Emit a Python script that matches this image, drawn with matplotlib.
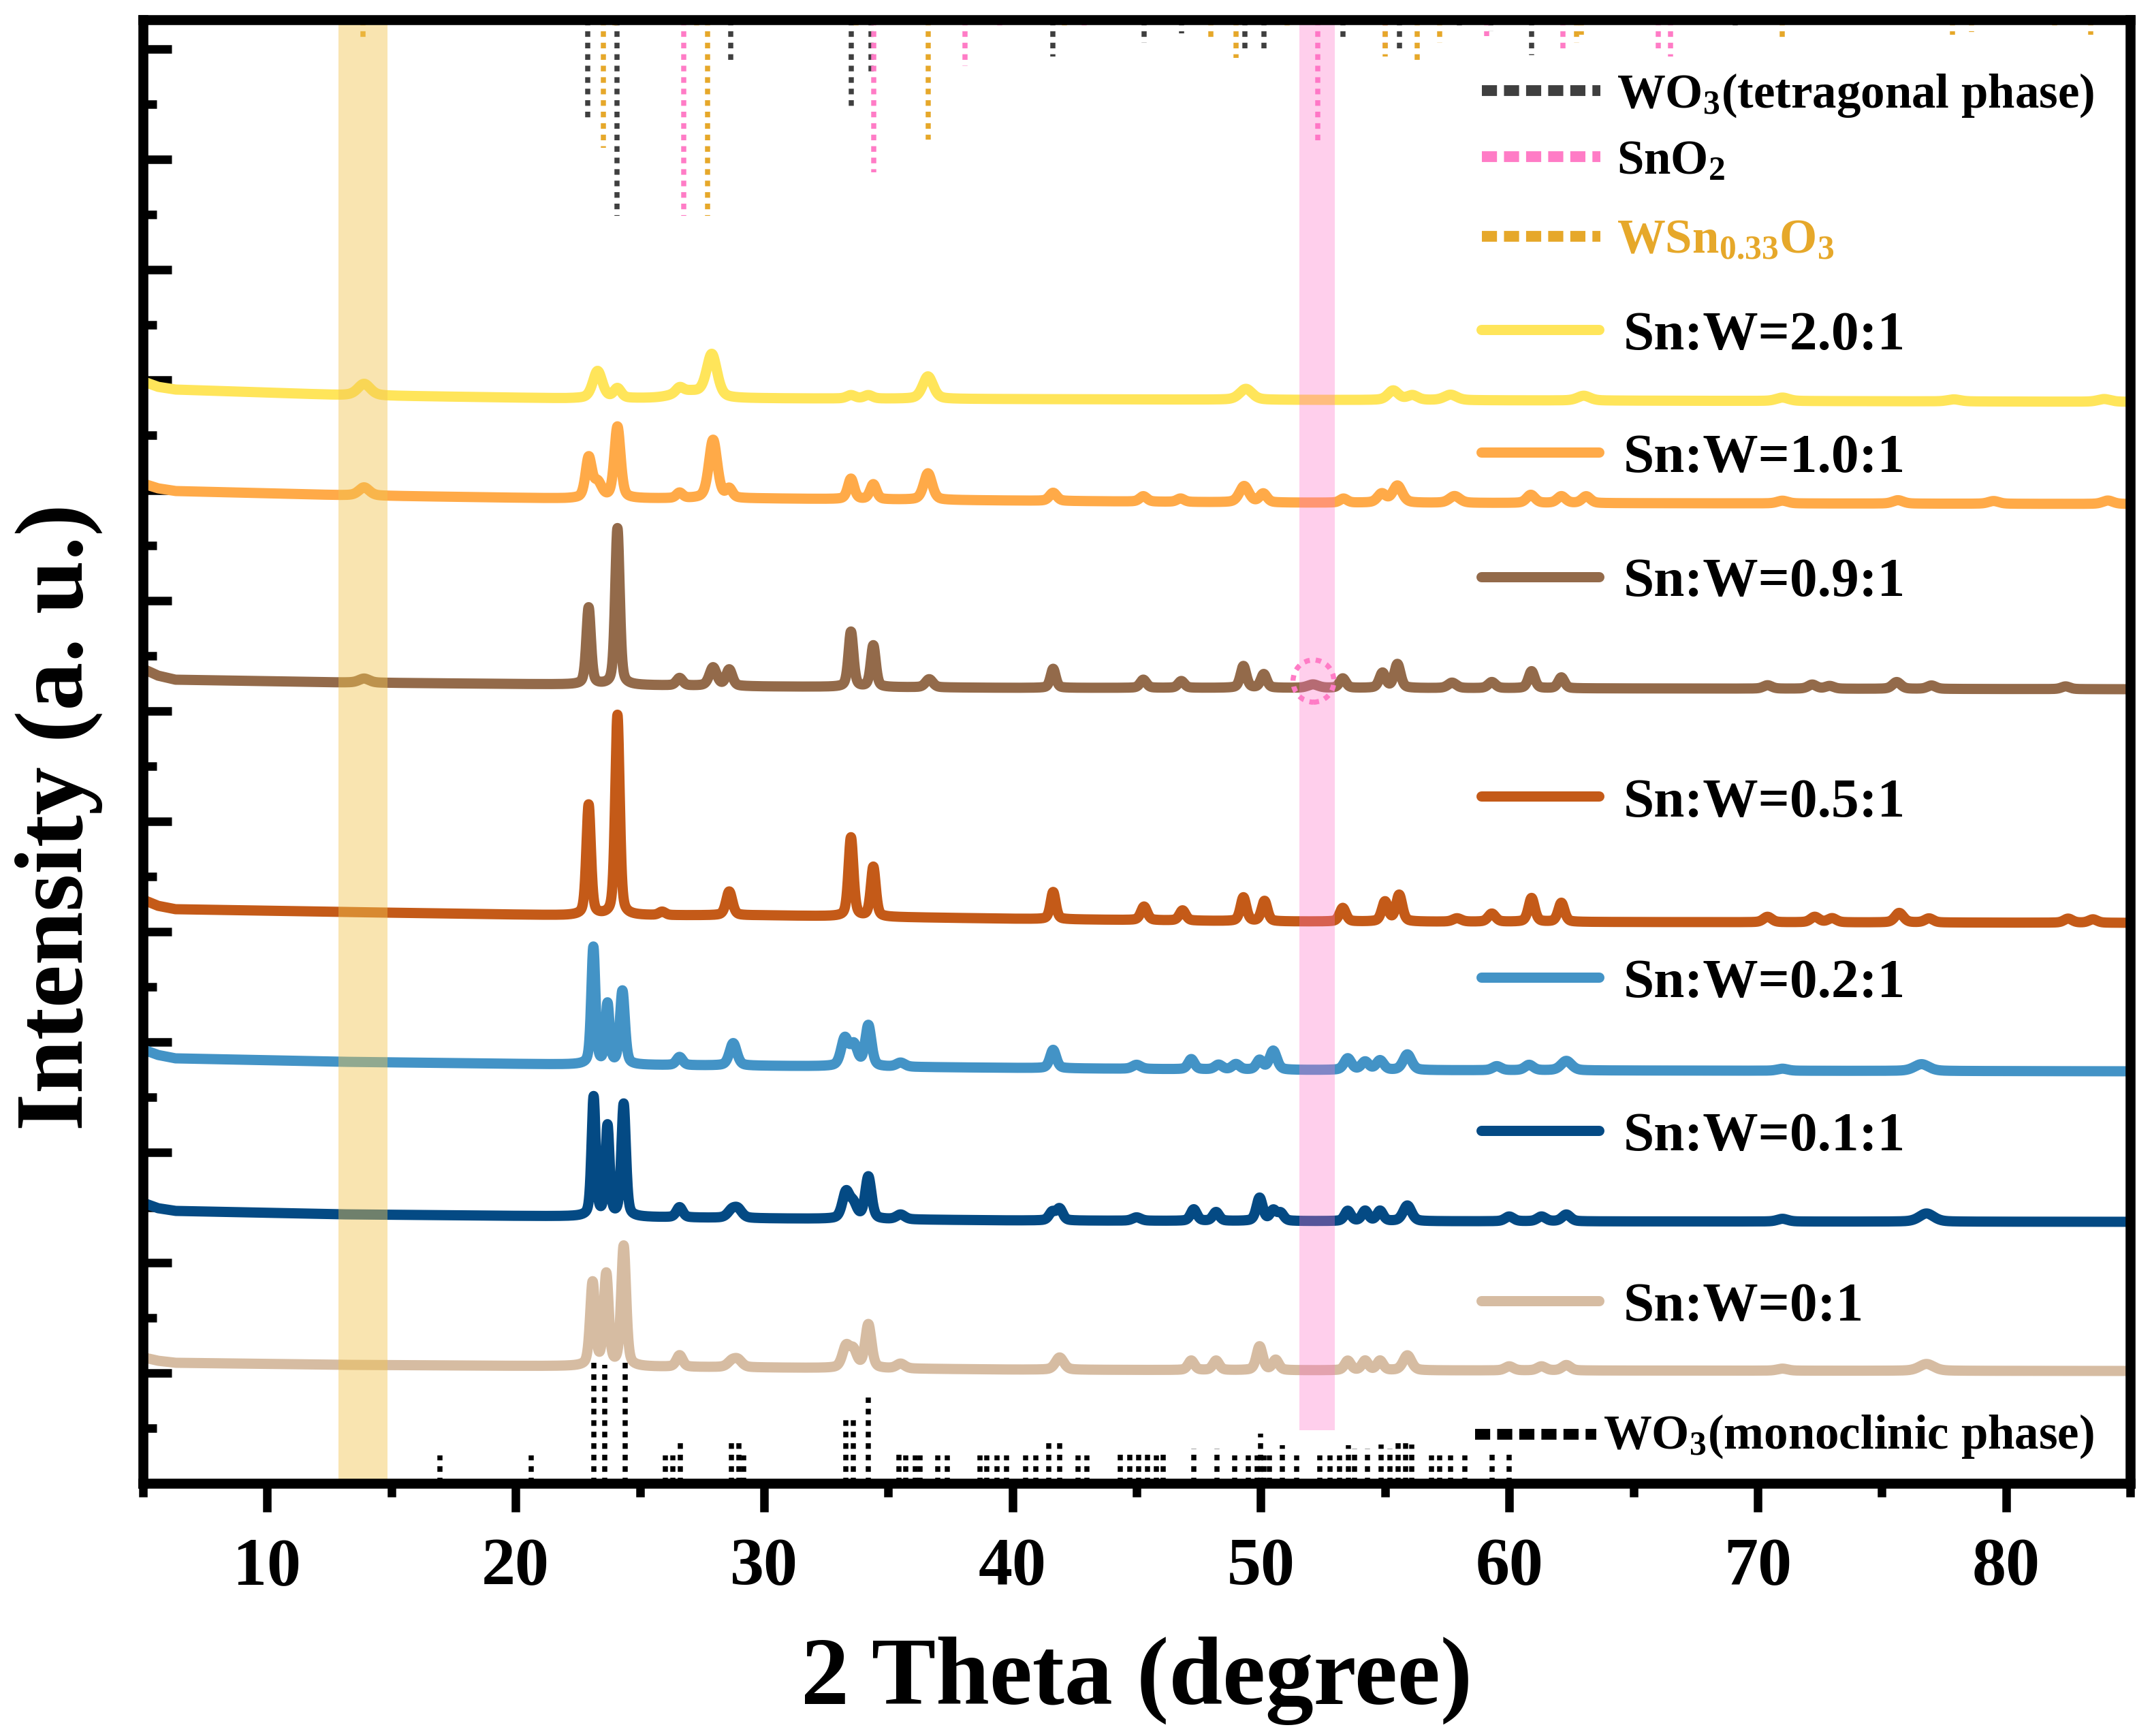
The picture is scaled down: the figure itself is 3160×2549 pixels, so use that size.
import numpy as np
import matplotlib
matplotlib.use("Agg")
import matplotlib.pyplot as plt
from matplotlib.lines import Line2D
from matplotlib.patches import Ellipse
from matplotlib.ticker import MultipleLocator

plt.rcParams['font.family'] = ['Liberation Serif', 'DejaVu Serif']
plt.rcParams['font.weight'] = 'bold'
plt.rcParams['mathtext.fontset'] = 'custom'
plt.rcParams['mathtext.rm'] = 'Liberation Serif:bold'
plt.rcParams['mathtext.bf'] = 'Liberation Serif:bold'
plt.rcParams['mathtext.it'] = 'Liberation Serif:italic:bold'

# ---- data -----------------------------------------------------------------
# baseline knots (2theta) shared by all patterns, offset intensities per sample
base_x = [5, 5.6, 6.3, 12.9, 22, 30, 40, 50, 85]
base_20 = [1618, 1610, 1606, 1598, 1593, 1593, 1592, 1591, 1588]
base_10 = [1468, 1461, 1457, 1451, 1446, 1446, 1443, 1440, 1438]
base_09 = [1196, 1186, 1180, 1176, 1173, 1170, 1168, 1168, 1166]
base_05 = [857, 848, 843, 839, 834, 834, 829, 825, 823]
base_02 = [637, 629, 624, 619, 615, 613, 610, 607, 605]
base_01 = [412, 404, 400, 395, 392, 389, 386, 385, 384]
base_00 = [185, 180, 177, 174, 172, 170, 167, 166, 165]

# peaks: (2theta, height, fwhm)
peaks_20 = [(13.9, 17, 0.6), (23.3, 40, 0.45), (24.1, 14, 0.35), (26.6, 8, 0.35),
            (27.0, 10, 1.4), (27.9, 62, 0.5), (33.5, 5, 0.4), (34.2, 5, 0.4),
            (36.6, 33, 0.5), (49.4, 16, 0.6), (55.33, 14, 0.5), (56.1, 7, 0.5),
            (57.64, 8, 0.6), (63.0, 7, 0.6), (71.0, 5, 0.6), (77.9, 3, 0.6),
            (83.95, 4, 0.6)]
peaks_10 = [(13.9, 12, 0.5), (22.94, 58, 0.3), (23.3, 22, 0.4), (24.1, 105, 0.3),
            (26.6, 8, 0.3), (27.95, 86, 0.4), (28.6, 13, 0.3), (33.5, 30, 0.3),
            (34.4, 22, 0.3), (36.6, 39, 0.4), (41.64, 12, 0.35), (45.27, 8, 0.35),
            (46.77, 5, 0.35), (49.33, 24, 0.45), (50.1, 13, 0.35), (53.33, 6, 0.35),
            (54.87, 13, 0.4), (55.5, 25, 0.45), (57.8, 10, 0.5), (60.87, 12, 0.4),
            (62.1, 10, 0.4), (63.1, 10, 0.4), (71.0, 4, 0.5), (75.65, 5, 0.5),
            (79.5, 4, 0.5), (84.1, 5, 0.5)]
peaks_09 = [(13.9, 6, 0.5), (22.94, 113, 0.22), (24.1, 230, 0.22), (26.6, 11, 0.3),
            (27.95, 27, 0.35), (28.6, 24, 0.3), (33.5, 81, 0.24), (34.4, 61, 0.24),
            (36.65, 12, 0.35), (41.64, 28, 0.25), (45.27, 12, 0.3), (46.8, 10, 0.3),
            (49.3, 32, 0.28), (50.12, 20, 0.28), (52.1, 5, 0.5), (53.3, 14, 0.3),
            (54.9, 22, 0.3), (55.5, 35, 0.3), (57.7, 8, 0.4), (59.3, 9, 0.35),
            (60.9, 25, 0.3), (62.1, 16, 0.3), (70.4, 5, 0.4), (72.2, 6, 0.4),
            (72.9, 4, 0.4), (75.6, 10, 0.4), (77.0, 5, 0.4), (82.4, 4, 0.4)]
peaks_05 = [(22.94, 162, 0.22), (24.1, 294, 0.22), (25.9, 5, 0.3), (28.6, 35, 0.3),
            (33.5, 116, 0.24), (34.4, 73, 0.24), (41.64, 40, 0.25), (45.3, 20, 0.3),
            (46.85, 15, 0.3), (49.3, 35, 0.28), (50.15, 30, 0.28), (53.3, 20, 0.3),
            (55.0, 29, 0.3), (55.57, 39, 0.3), (57.9, 5, 0.4), (59.3, 12, 0.35),
            (60.9, 35, 0.3), (62.1, 28, 0.3), (70.4, 8, 0.4), (72.3, 8, 0.4),
            (73.0, 6, 0.4), (75.7, 14, 0.4), (76.9, 6, 0.4), (82.5, 6, 0.4),
            (83.5, 5, 0.4)]
peaks_02 = [(23.13, 172, 0.2), (23.7, 88, 0.2), (24.3, 108, 0.24), (26.6, 12, 0.3),
            (28.76, 33, 0.35), (33.25, 40, 0.35), (33.62, 30, 0.35), (34.2, 60, 0.3),
            (35.5, 6, 0.4), (41.64, 27, 0.3), (45.0, 6, 0.4), (47.2, 15, 0.3),
            (48.3, 7, 0.35), (49.0, 8, 0.35), (49.95, 14, 0.3), (50.5, 28, 0.35),
            (53.5, 17, 0.35), (54.2, 12, 0.35), (54.8, 14, 0.35), (55.9, 23, 0.4),
            (59.5, 6, 0.4), (60.8, 8, 0.4), (62.3, 14, 0.5), (71.0, 3, 0.5),
            (76.6, 10, 0.7)]
peaks_01 = [(23.14, 175, 0.2), (23.7, 132, 0.2), (24.35, 165, 0.22), (26.6, 15, 0.3),
            (28.7, 10, 0.4), (28.95, 12, 0.4), (33.3, 38, 0.35), (33.6, 20, 0.35),
            (34.2, 62, 0.3), (35.5, 7, 0.4), (41.6, 12, 0.3), (41.9, 17, 0.3),
            (45.0, 5, 0.4), (47.3, 17, 0.3), (48.2, 13, 0.3), (49.95, 34, 0.3),
            (50.5, 15, 0.3), (50.8, 11, 0.3), (53.5, 15, 0.3), (54.2, 15, 0.3),
            (54.8, 15, 0.3), (55.9, 23, 0.4), (60.0, 7, 0.4), (61.3, 7, 0.4),
            (62.3, 10, 0.4), (71.0, 4, 0.5), (76.8, 12, 0.7)]
peaks_00 = [(23.1, 122, 0.24), (23.65, 134, 0.24), (24.35, 176, 0.24), (26.6, 17, 0.3),
            (28.7, 8, 0.4), (28.95, 10, 0.4), (33.3, 30, 0.35), (33.6, 24, 0.35),
            (34.2, 64, 0.3), (35.5, 7, 0.4), (41.9, 18, 0.4), (47.2, 14, 0.3),
            (48.2, 14, 0.3), (49.95, 35, 0.3), (50.6, 15, 0.3), (53.5, 14, 0.3),
            (54.2, 14, 0.3), (54.8, 14, 0.3), (55.9, 22, 0.4), (60.0, 6, 0.4),
            (61.3, 6, 0.4), (62.3, 8, 0.4), (71.0, 3, 0.5), (76.8, 10, 0.7)]

# reference sticks: position and length (from the top edge)
tet_pos = [22.9, 24.07, 28.65, 33.5, 34.3, 41.64, 45.29, 46.82, 49.35, 50.14,
           53.3, 55.57, 58.0, 59.27, 60.9, 69.1]
tet_len = [148, 288, 60, 134, 82, 54, 34, 20, 44, 44, 30, 50, 12, 17, 52, 10]
sno2_pos = [26.77, 34.43, 38.1, 39.48, 42.9, 52.28, 55.02, 59.08, 62.17, 66.0, 66.5]
sno2_len = [288, 224, 68, 15, 12, 184, 46, 24, 44, 44, 54]
wsn_pos = [13.85, 23.54, 24.0, 27.3, 27.72, 33.7, 36.6, 42.1, 48.0, 49.0, 51.07,
           55.0, 56.3, 57.2, 62.7, 62.9, 71.0, 77.85, 78.6, 81.95, 83.4]
wsn_len = [30, 188, 14, 12, 288, 12, 176, 12, 32, 56, 12, 54, 62, 34, 34, 22,
           30, 22, 18, 16, 22]
# monoclinic WO3 sticks: position and height (from the bottom edge)
mono_pos = [16.95, 20.64, 23.16, 23.6, 24.42, 26.04, 26.34, 26.64, 28.7, 29.0,
            29.17, 33.3, 33.6, 34.2, 35.42, 35.7, 36.1, 36.28, 37.0, 37.38, 38.7,
            38.96, 39.37, 39.75, 40.53, 40.95, 41.45, 41.9, 42.65, 43.0, 44.34,
            44.73, 45.09, 45.44, 45.8, 46.06, 47.3, 48.24, 48.95, 49.5, 49.84,
            49.99, 50.14, 50.35, 50.88, 51.45, 52.37, 52.79, 53.17, 53.53, 53.77,
            54.3, 54.83, 55.19, 55.54, 55.84, 56.08, 56.86, 57.2, 57.63, 58.22,
            59.3, 59.99]
mono_h = [41, 41, 179, 174, 178, 41, 41, 65, 60, 60, 41, 94, 94, 126, 46, 41,
          41, 41, 41, 41, 41, 41, 41, 41, 41, 41, 59, 59, 41, 41, 44, 44, 44, 44,
          41, 46, 51, 51, 41, 41, 41, 73, 41, 41, 56, 41, 41, 41, 41, 56, 51, 51,
          57, 51, 64, 66, 57, 41, 41, 41, 41, 44, 44]

labels = ['Sn:W=2.0:1', 'Sn:W=1.0:1', 'Sn:W=0.9:1', 'Sn:W=0.5:1',
          'Sn:W=0.2:1', 'Sn:W=0.1:1', 'Sn:W=0:1']
colors = ['#FFE55A', '#FFAA48', '#936A4A', '#C45A18', '#4393C6', '#044A84', '#D6BCA2']
bases = [base_20, base_10, base_09, base_05, base_02, base_01, base_00]
peaks = [peaks_20, peaks_10, peaks_09, peaks_05, peaks_02, peaks_01, peaks_00]

YTOP = 2149.5
x = np.linspace(5, 85, 8001)


def pattern(base, plist):
    y = np.interp(x, base_x, base)
    for pos, h, w in plist:
        d = (x - pos) / (w / 2)
        y = y + h * (0.6 * np.exp(-np.log(2) * d**2) + 0.4 / (1 + d**2))
    return y


fig = plt.figure(figsize=(3160 / 300, 2549 / 300), dpi=300)
ax = fig.add_axes([210 / 3160, 1 - 2178 / 2549, 2918 / 3160, YTOP / 2549])
ax.set_xlim(5, 85)
ax.set_ylim(0, YTOP)

dots = (0, (1.1, 1.15))
ax.vlines(tet_pos, YTOP, YTOP - np.array(tet_len), colors='#3F3F3F', lw=1.8,
          linestyles=dots, zorder=1)
ax.vlines(sno2_pos, YTOP, YTOP - np.array(sno2_len), colors='#FF7CC6', lw=1.8,
          linestyles=dots, zorder=1)
ax.vlines(wsn_pos, YTOP, YTOP - np.array(wsn_len), colors='#E6A82A', lw=1.8,
          linestyles=dots, zorder=1)
ax.vlines(mono_pos, 0, mono_h, colors='black', lw=1.8, linestyles=dots, zorder=1)

for base, plist, c in zip(bases, peaks, colors):
    ax.plot(x, pattern(base, plist), color=c, lw=3.6, solid_joinstyle='round', zorder=2)

# highlighted regions
ax.axvspan(12.88, 14.85, color='#F2C450', alpha=0.45, lw=0, zorder=3)
ax.axvspan(51.54, 52.97, ymin=78 / YTOP, ymax=1, color='#FF6EC8', alpha=0.33,
           lw=0, zorder=3)
ax.add_patch(Ellipse((52.12, 1178), 1.645, 62, fill=False, ec='#FF7CC6', lw=1.8,
                     ls=dots, zorder=4))

# legend-like labels
T = ax.transAxes
phase_items = [('WO$_{\\rm 3}$(tetragonal phase)', '#3F3F3F', 'black', 0.9514, 0.9398),
               ('SnO$_{\\rm 2}$', '#FF7CC6', 'black', 0.9063, 0.8946),
               ('WSn$_{\\rm 0.33}$O$_{\\rm 3}$', '#E6A82A', '#E6A82A', 0.8518, 0.8402)]
for txt, lc, tc, ly, ty in phase_items:
    ax.add_line(Line2D([0.6737, 0.7334], [ly, ly], transform=T, color=lc, lw=3.8,
                       dashes=(1.4, 0.65), dash_capstyle='butt', zorder=5))
    ax.text(0.7416, ty, txt, transform=T, color=tc, fontsize=17, fontweight='bold',
            va='baseline', ha='left', zorder=5)

ax.add_line(Line2D([0.6703, 0.7313], [0.0335, 0.0335], transform=T, color='black',
                   lw=3.8, dashes=(1.4, 0.65), dash_capstyle='butt', zorder=5))
ax.text(0.7347, 0.0237, 'WO$_{\\rm 3}$(monoclinic phase)', transform=T, color='black',
        fontsize=17, fontweight='bold', va='baseline', ha='left', zorder=5)

line_y = [0.7881, 0.7044, 0.6192, 0.4694, 0.3457, 0.2410, 0.1247]
text_y = [0.7744, 0.6909, 0.6062, 0.4555, 0.3322, 0.2275, 0.1112]
for lab, c, ly, ty in zip(labels, colors, line_y, text_y):
    ax.add_line(Line2D([0.6734, 0.7327], [ly, ly], transform=T, color=c, lw=3.6,
                       solid_capstyle='round', zorder=5))
    ax.text(0.745, ty, lab, transform=T, fontsize=19.5, fontweight='bold',
            va='baseline', ha='left', zorder=5)

# axes styling
for s in ax.spines.values():
    s.set_linewidth(3.5)
    s.set_zorder(6)
ax.xaxis.set_major_locator(MultipleLocator(10))
ax.xaxis.set_minor_locator(MultipleLocator(5))
ax.yaxis.set_major_locator(MultipleLocator(162))
ax.yaxis.set_minor_locator(MultipleLocator(81))
ax.tick_params(axis='x', which='major', direction='out', length=10, width=3,
               pad=9, labelsize=24)
ax.tick_params(axis='x', which='minor', direction='out', length=4.8, width=3)
ax.tick_params(axis='y', which='major', direction='in', length=10, width=3,
               labelleft=False)
ax.tick_params(axis='y', which='minor', direction='in', length=4.8, width=3)
ax.tick_params(top=False, right=False, which='both')
for t in ax.get_xticklabels():
    t.set_fontweight('bold')

fig.text(1669 / 3160, 1 - 2502 / 2549, '2 Theta (degree)', fontsize=34,
         fontweight='bold', ha='center', va='baseline')
fig.text(121 / 3160, 1 - 1200 / 2549, 'Intensity (a. u.)', fontsize=34,
         fontweight='bold', ha='center', va='baseline', rotation=90,
         rotation_mode='anchor')

fig.savefig('out.png', dpi=300)
